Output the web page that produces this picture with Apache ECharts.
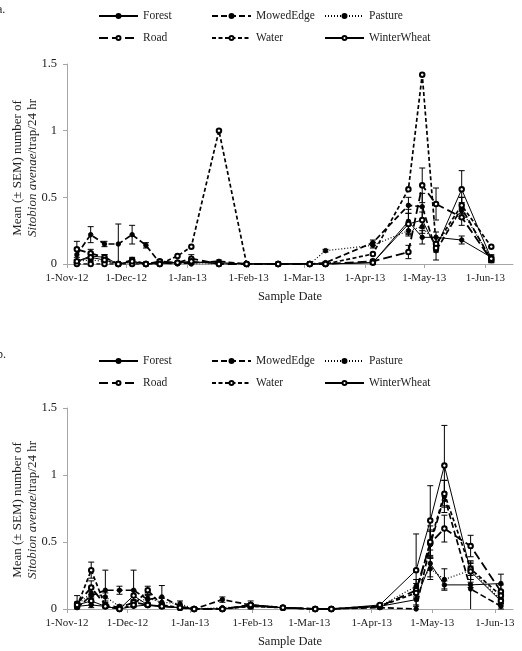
<!DOCTYPE html>
<html>
<head>
<meta charset="utf-8">
<script src="https://cdn.jsdelivr.net/npm/echarts@6/dist/echarts.min.js"></script>
<style>
html, body { margin: 0; padding: 0; background: #fff; }
#main { width: 522px; height: 651px; }
</style>
</head>
<body>
<div id="main"></div>
<script>
// sample dates (same sampling for both panels)
var sampleDates = ['2012-11-06', '2012-11-13', '2012-11-20', '2012-11-27', '2012-12-04', '2012-12-11',
  '2012-12-18', '2012-12-27', '2013-01-03', '2013-01-17', '2013-01-31', '2013-02-16', '2013-03-04',
  '2013-03-12', '2013-04-05', '2013-04-23', '2013-04-30', '2013-05-07', '2013-05-20', '2013-06-04'];

// x axis tick dates and labels
var monthTicks = ['2012-11-01', '2012-12-01', '2013-01-01', '2013-02-01', '2013-03-01', '2013-04-01', '2013-05-01', '2013-06-01'];
var monthLabels = ['1-Nov-12', '1-Dec-12', '1-Jan-13', '1-Feb-13', '1-Mar-13', '1-Apr-13', '1-May-13', '1-Jun-13'];
var yTicks = [0, 0.5, 1, 1.5];

var seriesNames = ['Forest', 'MowedEdge', 'Pasture', 'Road', 'Water', 'WinterWheat'];
var yTitle = 'Mean (\u00b1 SEM) number of\n{i|Sitobion avenae}/trap/24 hr';

// ---- panel a ----
var aForest      = [0.02, 0.06, 0.05, 0.00, 0.02, 0.00, 0.01, 0.01, 0.01, 0.01, 0.00, 0.00, 0.00, 0.00, 0.01, 0.32, 0.20, 0.20, 0.18, 0.05];
var aMowedEdge   = [0.07, 0.22, 0.15, 0.15, 0.22, 0.14, 0.01, 0.00, 0.01, 0.02, 0.00, 0.00, 0.00, 0.01, 0.16, 0.44, 0.43, 0.10, 0.42, 0.03];
var aPasture     = [0.02, 0.03, 0.02, 0.00, 0.01, 0.00, 0.01, 0.01, 0.00, 0.00, 0.00, 0.00, 0.00, 0.10, 0.14, 0.25, 0.28, 0.15, 0.40, 0.04];
var aRoad        = [0.11, 0.08, 0.05, 0.00, 0.03, 0.00, 0.02, 0.01, 0.04, 0.00, 0.00, 0.00, 0.00, 0.00, 0.02, 0.09, 0.59, 0.45, 0.35, 0.03];
var aWater       = [0.00, 0.00, 0.00, 0.00, 0.00, 0.00, 0.00, 0.06, 0.13, 1.00, 0.00, 0.00, 0.00, 0.00, 0.075, 0.56, 1.42, 0.15, 0.44, 0.13];
var aWinterWheat = [0.02, 0.05, 0.03, 0.00, 0.02, 0.00, 0.00, 0.01, 0.02, 0.00, 0.00, 0.00, 0.00, 0.00, 0.01, 0.30, 0.33, 0.12, 0.56, 0.04];

// SEM
var aForestErr      = [0.01, 0.02, 0.02, 0, 0.01, 0, 0.01, 0, 0, 0, 0, 0, 0, 0, 0.01, 0.09, 0.05, 0.04, 0.03, 0.02];
var aMowedEdgeErr   = [0.05, 0.06, 0.02, 0.15, 0.07, 0.02, 0.02, 0, 0.01, 0.01, 0, 0, 0, 0.01, 0.02, 0.06, 0.10, 0.07, 0.08, 0.02];
var aPastureErr     = [0.01, 0.01, 0.01, 0, 0, 0, 0, 0, 0, 0, 0, 0, 0, 0.01, 0.02, 0.04, 0.05, 0.05, 0.06, 0.02];
var aRoadErr        = [0.06, 0.03, 0.02, 0, 0.02, 0, 0.01, 0, 0.03, 0, 0, 0, 0, 0, 0.01, 0.05, 0.13, 0.12, 0.06, 0.02];
var aWaterErr       = [0, 0, 0, 0, 0, 0, 0, 0, 0, 0, 0, 0, 0, 0, 0, 0, 0, 0, 0.06, 0];
var aWinterWheatErr = [0.01, 0.02, 0.01, 0, 0.01, 0, 0, 0, 0.02, 0, 0, 0, 0, 0, 0.01, 0.08, 0.06, 0.03, 0.14, 0.02];

// ---- panel b ----
var bForest      = [0.02, 0.03, 0.02, 0.00, 0.02, 0.03, 0.02, 0.01, 0.00, 0.00, 0.02, 0.01, 0.00, 0.00, 0.02, 0.07, 0.34, 0.18, 0.18, 0.19];
var bMowedEdge   = [0.01, 0.10, 0.14, 0.14, 0.14, 0.07, 0.09, 0.02, 0.00, 0.07, 0.03, 0.01, 0.00, 0.00, 0.01, 0.00, 0.48, 0.84, 0.15, 0.02];
var bPasture     = [0.03, 0.12, 0.09, 0.02, 0.04, 0.08, 0.05, 0.04, 0.00, 0.01, 0.02, 0.01, 0.00, 0.00, 0.02, 0.17, 0.30, 0.22, 0.29, 0.07];
var bRoad        = [0.04, 0.16, 0.03, 0.01, 0.05, 0.03, 0.02, 0.01, 0.00, 0.00, 0.03, 0.01, 0.00, 0.00, 0.02, 0.14, 0.49, 0.60, 0.47, 0.13];
var bWater       = [0.02, 0.29, 0.02, 0.00, 0.03, 0.14, 0.03, 0.01, 0.00, 0.00, 0.02, 0.01, 0.00, 0.00, 0.02, 0.12, 0.50, 0.86, 0.30, 0.10];
var bWinterWheat = [0.03, 0.06, 0.02, 0.00, 0.10, 0.03, 0.02, 0.01, 0.00, 0.00, 0.03, 0.01, 0.00, 0.00, 0.03, 0.29, 0.66, 1.07, 0.28, 0.06];

var bForestErr      = [0.01, 0.02, 0.01, 0, 0.01, 0.01, 0.01, 0, 0, 0, 0.01, 0, 0, 0, 0.01, 0.04, 0.10, 0.03, 0.02, 0.07];
var bMowedEdgeErr   = [0.01, 0.05, 0.15, 0.03, 0.15, 0.03, 0.085, 0.01, 0, 0.02, 0.01, 0, 0, 0, 0.01, 0, 0.10, 0.12, 0.17, 0.02];
var bPastureErr     = [0.02, 0.04, 0.03, 0.01, 0.02, 0.03, 0.03, 0.02, 0, 0, 0.01, 0, 0, 0, 0.01, 0.05, 0.08, 0.08, 0.07, 0.03];
var bRoadErr        = [0.06, 0.05, 0.02, 0, 0.02, 0.01, 0.01, 0, 0, 0, 0.03, 0, 0, 0, 0.01, 0.05, 0.10, 0.10, 0.08, 0.05];
var bWaterErr       = [0.01, 0.06, 0.01, 0, 0.01, 0.03, 0.01, 0, 0, 0, 0.01, 0, 0, 0, 0.01, 0.04, 0.12, 0.10, 0.05, 0.03];
var bWinterWheatErr = [0.02, 0.03, 0.01, 0, 0.04, 0.01, 0.01, 0, 0, 0, 0.01, 0, 0, 0, 0.01, 0.27, 0.26, 0.30, 0.06, 0.03];

var panelA = [aForest, aMowedEdge, aPasture, aRoad, aWater, aWinterWheat];
var panelAErr = [aForestErr, aMowedEdgeErr, aPastureErr, aRoadErr, aWaterErr, aWinterWheatErr];
var panelB = [bForest, bMowedEdge, bPasture, bRoad, bWater, bWinterWheat];
var panelBErr = [bForestErr, bMowedEdgeErr, bPastureErr, bRoadErr, bWaterErr, bWinterWheatErr];

var FONT = 'Liberation Serif';
var AXIS_GRAY = '#a6a6a6';

// line look for each site
var lineLook = [
  { type: 'solid', width: 1, symbol: 'circle' },
  { type: [6, 3], width: 1.7, symbol: 'circle' },
  { type: [1, 2], width: 1.2, symbol: 'circle' },
  { type: [9, 4], width: 1.8, symbol: 'emptyCircle' },
  { type: [4, 2.5], width: 1.7, symbol: 'emptyCircle' },
  { type: 'solid', width: 1, symbol: 'emptyCircle' }
];

// days since 1-Nov-12
function dayNo(s) {
  var p = s.split('-');
  return Math.round((Date.UTC(+p[0], +p[1] - 1, +p[2]) - Date.UTC(2012, 10, 1)) / 86400000);
}
var tickDays = monthTicks.map(dayNo);
var sampleDays = sampleDates.map(dayNo);

function renderErr(params, api) {
  var x = api.value(0);
  var lo = api.value(1), hi = api.value(2);
  var clipped = lo < 0;
  if (clipped) lo = 0;
  var top = api.coord([x, hi]);
  var bot = api.coord([x, lo]);
  var h = 3;
  var st = { stroke: '#000', lineWidth: 1 };
  var kids = [
    { type: 'line', shape: { x1: top[0], y1: top[1], x2: bot[0], y2: bot[1] }, style: st },
    { type: 'line', shape: { x1: top[0] - h, y1: top[1], x2: top[0] + h, y2: top[1] }, style: st }
  ];
  if (!clipped) {
    kids.push({ type: 'line', shape: { x1: bot[0] - h, y1: bot[1], x2: bot[0] + h, y2: bot[1] }, style: st });
  }
  return { type: 'group', children: kids };
}

function panelSeries(vals, errs, idx) {
  var out = [];
  var errData = [];
  seriesNames.forEach(function (name, i) {
    var look = lineLook[i];
    out.push({
      name: name,
      type: 'line',
      xAxisIndex: idx,
      yAxisIndex: idx,
      data: sampleDays.map(function (d, k) { return [d, vals[i][k]]; }),
      symbol: look.symbol,
      symbolSize: 4.5,
      showSymbol: true,
      lineStyle: { color: '#000', width: look.width, type: look.type },
      itemStyle: { color: '#000', borderColor: '#000', borderWidth: 0.9 },
      z: 3,
      animation: false
    });
    errs[i].forEach(function (e, k) {
      if (e > 0) errData.push([sampleDays[k], vals[i][k] - e, vals[i][k] + e]);
    });
  });
  out.push({
    type: 'custom',
    xAxisIndex: idx,
    yAxisIndex: idx,
    renderItem: renderErr,
    encode: { x: 0, y: [1, 2] },
    data: errData,
    z: 2,
    animation: false,
    silent: true
  });
  return out;
}

function xAxisFor(idx, maxDay) {
  return {
    gridIndex: idx,
    type: 'value',
    min: 0,
    max: maxDay,
    name: 'Sample Date',
    nameLocation: 'middle',
    nameGap: 26,
    nameTextStyle: { fontFamily: FONT, fontSize: 12.5, color: '#222' },
    axisLine: { lineStyle: { color: AXIS_GRAY, width: 1 } },
    axisTick: { show: true, customValues: tickDays, length: 4, inside: false, lineStyle: { color: AXIS_GRAY } },
    axisLabel: {
      customValues: tickDays,
      fontFamily: FONT, fontSize: 11, color: '#222', margin: 9,
      formatter: function (v) {
        var i = tickDays.indexOf(Math.round(v));
        return i >= 0 ? monthLabels[i] : '';
      }
    },
    splitLine: { show: false }
  };
}

function yAxisFor(idx) {
  return {
    gridIndex: idx,
    type: 'value',
    min: 0,
    max: 1.5,
    interval: 0.5,
    axisLine: { show: true, lineStyle: { color: AXIS_GRAY, width: 1 } },
    axisTick: { show: true, length: 4, lineStyle: { color: AXIS_GRAY } },
    axisLabel: {
      customValues: yTicks,
      fontFamily: FONT, fontSize: 12.5, color: '#222', margin: 10
    },
    splitLine: { show: false }
  };
}

// rotated two-line y title (axis name kept getting pushed left)
function yTitleAt(cx, cy) {
  return {
    type: 'text',
    x: cx,
    y: cy,
    rotation: Math.PI / 2,
    style: {
      text: yTitle,
      fontFamily: FONT,
      fontSize: 13,
      lineHeight: 15,
      fill: '#222',
      align: 'center',
      verticalAlign: 'middle',
      rich: { i: { fontFamily: FONT, fontSize: 13, fontStyle: 'italic', fill: '#222', lineHeight: 15 } }
    }
  };
}

function legendFor(top) {
  return {
    data: seriesNames,
    left: 98,
    top: top,
    width: 340,
    padding: 0,
    itemWidth: 39,
    itemHeight: 5,
    itemGap: 8,
    selectedMode: false,
    textStyle: { fontFamily: FONT, fontSize: 11.5, color: '#222', width: 60, lineHeight: 14 }
  };
}

var chart = echarts.init(document.getElementById('main'), null, { renderer: 'canvas' });

var option = {
  backgroundColor: '#fff',
  animation: false,
  graphic: [
    { type: 'text', x: -3, y: 4, style: { text: 'a.', font: '12px "Liberation Serif"', fill: '#222' } },
    { type: 'text', x: -3, y: 349, style: { text: 'b.', font: '12px "Liberation Serif"', fill: '#222' } },
    yTitleAt(25, 168),
    yTitleAt(25, 510)
  ],
  legend: [legendFor(9), legendFor(354)],
  grid: [
    { left: 67, right: 9, top: 64, height: 200, outerBoundsMode: 'none' },
    { left: 67, right: 9, top: 408, height: 201, outerBoundsMode: 'none' }
  ],
  xAxis: [xAxisFor(0, 226), xAxisFor(1, 221)],
  yAxis: [yAxisFor(0), yAxisFor(1)],
  series: panelSeries(panelA, panelAErr, 0).concat(panelSeries(panelB, panelBErr, 1))
};

chart.setOption(option);
</script>
</body>
</html>
